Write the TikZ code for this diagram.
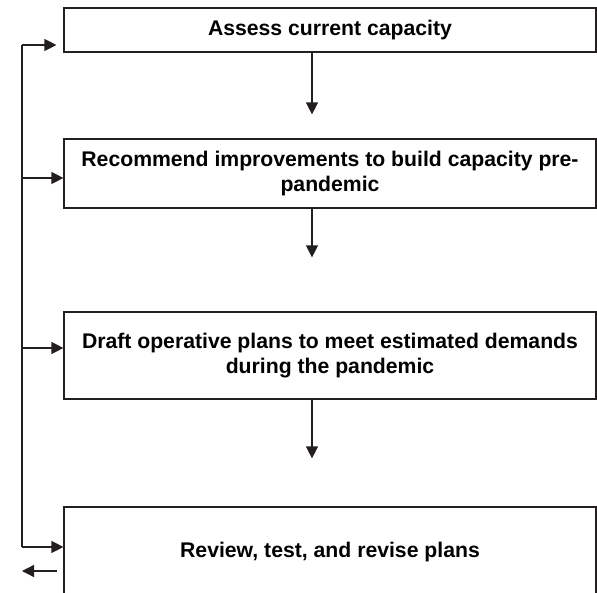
\documentclass[tikz,border=0pt]{standalone}
\usepackage{fontspec}
\setmainfont{Liberation Sans}
\usepackage{tikz}
\usetikzlibrary{arrows.meta, positioning}
\definecolor{ink}{RGB}{35,31,32}
\tikzset{
  stage/.style={draw=ink, line width=1.2pt, minimum width=532pt, inner sep=0pt,
                align=center, font=\bfseries\fontsize{21.2}{25}\selectfont},
  wire/.style={draw=ink, line width=1.3pt},
  flow/.style={wire, -{Triangle[length=12pt,width=12pt]}},
}

\begin{document}
\begin{tikzpicture}[x=1pt, y=-1pt]
  \useasboundingbox (0,0) rectangle (597,593);
  \clip (0,0) rectangle (597,593);

  % ---------- stages ----------
  \node[stage, minimum height=44pt] (assess)    at (330,30)    {Assess current capacity};
  \node[stage, minimum height=69pt] (recommend) at (330,173.5) {Recommend improvements to build capacity pre-\\pandemic};
  \node[stage, minimum height=87pt] (draft)     at (330,355.5) {Draft operative plans to meet estimated demands\\during the pandemic};
  \node[stage, minimum height=90pt] (review)    at (330,552)   {Review, test, and revise plans};

  % ---------- forward arrows ----------
  \draw[flow, shorten >=24pt] ([xshift=-18pt]assess.south)    -- ([xshift=-18pt]recommend.north);
  \draw[flow, shorten >=54pt] ([xshift=-18pt]recommend.south) -- ([xshift=-18pt]draft.north);
  \draw[flow, shorten >=48pt] ([xshift=-18pt]draft.south)     -- ([xshift=-18pt]review.north);

  % ---------- feedback loop ----------
  \coordinate (loop1) at (22,45);
  \coordinate (loop2) at (22,178);
  \coordinate (loop3) at (22,348);
  \coordinate (loop4) at (22,547);
  \coordinate (exit)  at (22,571);
  \draw[wire] (loop4) -- (loop1);
  \draw[flow, shorten >=7pt] (loop1) -- (loop1 -| assess.west);
  \draw[flow] (loop2) -- (loop2 -| recommend.west);
  \draw[flow] (loop3) -- (loop3 -| draft.west);
  \draw[flow] (loop4) -- (loop4 -| review.west);
  \draw[flow] ([xshift=-6pt]exit -| review.west) -- (exit);
\end{tikzpicture}
\end{document}
